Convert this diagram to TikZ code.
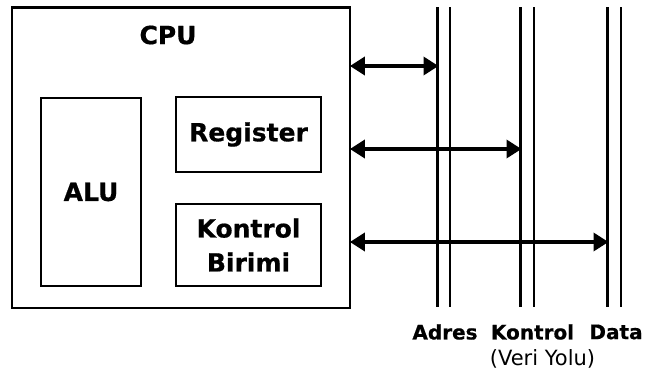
\documentclass[tikz,border=0pt]{standalone}
\usepackage{fontspec}
\setmainfont{DejaVu Sans}[BoldFeatures={FakeBold=0.6}]
\usetikzlibrary{arrows.meta}
\begin{document}
\begin{tikzpicture}[x=1pt,y=-1pt,
  box/.style={draw,line width=2.8pt,inner sep=0pt,font=\bfseries\fontsize{25}{34}\selectfont,align=center},
  bus/.style={line width=2.4pt},
  link/.style={line width=3.6pt,{Triangle[length=15pt,width=18pt]}-{Triangle[length=15pt,width=18pt]},shorten <=-1.5pt,shorten >=-1pt},
  lbl/.style={font=\bfseries\fontsize{20}{24}\selectfont,inner sep=0pt}]
\useasboundingbox (0,0) rectangle (646,372);
\node[box,minimum width=338pt,minimum height=300.5pt] (cpu) at (181,157.75) {};
\node[font=\bfseries\fontsize{25}{30}\selectfont,inner sep=0pt] (cputxt) at (168,35) {CPU};
\node[box,minimum width=100pt,minimum height=188pt] (alu) at (91,192) {ALU};
\node[box,minimum width=145pt,minimum height=75pt] (reg) at (248.5,134.5) {Register};
\node[box,minimum width=145pt,minimum height=82pt] (kb) at (248.5,245) {Kontrol\\Birimi};
% bus lines
\foreach \n/\x in {a1/437.5,a2/450,k1/520.5,k2/534,d1/607.5,d2/621}{
  \coordinate (\n t) at (\x,7);
  \coordinate (\n b) at (\x,307);
  \draw[bus] (\n t) -- (\n b);
}
\coordinate (ea) at (cpu.east |- 0,66);
\coordinate (ek) at (cpu.east |- 0,149);
\coordinate (ed) at (cpu.east |- 0,242);
\draw[link] (ea) -- (ea -| a1t);
\draw[link] (ek) -- (ek -| k1t);
\draw[link] (ed) -- (ed -| d1t);
\node[lbl] (ladr) at (445,332) {Adres};
\node[lbl] (lkon) at (532.5,332) {Kontrol};
\node[lbl] (ldat) at (616,332) {Data};
\node[font=\fontsize{21}{24}\selectfont,inner sep=0pt] (lveri) at (542.5,359) {(Veri Yolu)};
\end{tikzpicture}
\end{document}
